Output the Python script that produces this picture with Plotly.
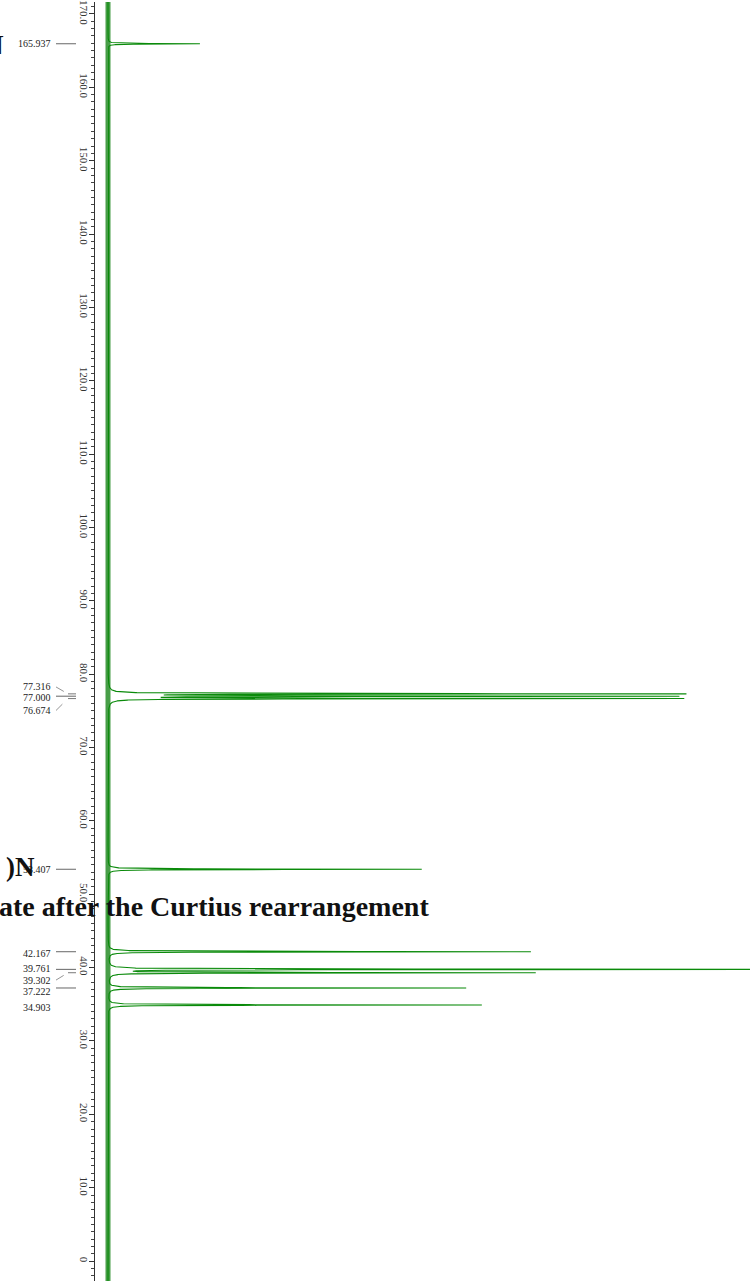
import numpy as np
import plotly.graph_objects as go

# ---- data (13C NMR, ppm) ----
peak_ppm = [165.937, 77.316, 77.000, 76.674, 53.407, 42.167, 39.761, 39.302, 37.222, 34.903]
peak_int = [92, 570, 558, 570, 314, 423, 680, 425, 359, 374]
peak_labels = ["165.937", "77.316", "77.000", "76.674", "53.407",
               "42.167", "39.761", "39.302", "37.222", "34.903"]
label_ppm = [165.937, 78.26, 76.77, 75.05, 53.407, 41.9, 39.85, 38.3, 36.75, 34.55]
label_link = [True, True, True, True, True, True, True, True, True, False]
tick_vals = list(range(0, 171, 10))
tick_text = ["0"] + [f"{v:.1f}" for v in tick_vals[1:]]

# ---- layout geometry (page pixels) ----
W, H = 750, 1281
PLOT_L = 95                # axis line position
X_MIN, X_MAX = -13, 642
Y_MIN, Y_MAX = -2.72, 171.63
hw = 0.035                 # Lorentzian half width (ppm)

def px_to_paper(px):
    return (px - PLOT_L) / (W - PLOT_L)

def py_to_paper(py):
    return 1 - py / H

# spectrum built from the peak list
ppm = np.arange(Y_MIN, Y_MAX, 0.004)
inten = np.zeros_like(ppm)
for p, a in zip(peak_ppm, peak_int):
    inten += a * hw**2 / ((ppm - p) ** 2 + hw**2)

fig = go.Figure()
fig.add_trace(go.Scatter(x=inten, y=ppm, mode="lines",
                         line=dict(color="#0a8a0a", width=1.1),
                         hoverinfo="skip", showlegend=False))

shapes = []
# baseline noise band
shapes.append(dict(type="rect", xref="x", yref="paper", x0=-2.5, x1=2.5, y0=0, y1=1,
                   fillcolor="#1a861a", line=dict(width=0), opacity=0.8, layer="below"))

annotations = []
for p, lab, ly, link in zip(peak_ppm, peak_labels, label_ppm, label_link):
    annotations.append(dict(xref="paper", yref="y", x=px_to_paper(53), y=ly,
                            text=lab, showarrow=False, xanchor="right", yanchor="middle",
                            font=dict(family="Liberation Serif", size=10, color="#222")))
    if not link:
        continue
    if abs(ly - p) < 0.5:
        shapes.append(dict(type="line", xref="paper", yref="y",
                           x0=px_to_paper(56), x1=px_to_paper(76), y0=p, y1=p,
                           line=dict(color="#555", width=0.9)))
    else:
        shapes.append(dict(type="line", xref="paper", yref="y",
                           x0=px_to_paper(56), x1=px_to_paper(68), y0=ly, y1=p,
                           line=dict(color="#666", width=0.7, dash="dash")))
        shapes.append(dict(type="line", xref="paper", yref="y",
                           x0=px_to_paper(68), x1=px_to_paper(76), y0=p, y1=p,
                           line=dict(color="#555", width=0.8)))

# overlapping caption text fragments from the source page
serif_bold = dict(family="Liberation Serif", size=27, color="#111")
annotations.append(dict(xref="paper", yref="paper", x=px_to_paper(6), y=py_to_paper(43),
                        text="<b>N</b>", showarrow=False, xanchor="right", yanchor="middle",
                        font=serif_bold))
annotations.append(dict(xref="paper", yref="paper", x=px_to_paper(4), y=py_to_paper(866),
                        text="<b>)N</b>", showarrow=False, xanchor="left", yanchor="middle",
                        font=serif_bold))
annotations.append(dict(xref="paper", yref="paper", x=px_to_paper(-3), y=py_to_paper(906),
                        text="<b>ate after the Curtius rearrangement</b>", showarrow=False,
                        xanchor="left", yanchor="middle",
                        font=dict(family="Liberation Serif", size=28, color="#111")))

fig.update_layout(
    width=W, height=H,
    margin=dict(l=PLOT_L, r=0, t=0, b=0),
    paper_bgcolor="white", plot_bgcolor="white",
    shapes=shapes, annotations=annotations,
    xaxis=dict(range=[X_MIN, X_MAX], visible=False, fixedrange=True),
    yaxis=dict(range=[Y_MIN, Y_MAX], tickvals=tick_vals, ticktext=tick_text,
               tickangle=90, ticks="outside", ticklen=5, tickcolor="#333", tickwidth=1,
               ticklabelstandoff=-4, ticklabeloverflow="allow",
               showline=True, linecolor="#333", linewidth=1, showgrid=False, zeroline=False,
               tickfont=dict(family="Liberation Serif", size=11, color="#333"),
               minor=dict(dtick=1, ticks="outside", ticklen=3, tickcolor="#444", tickwidth=0.8)),
)

fig.write_html("out.html", config={"displayModeBar": False},
               post_script="document.body.style.margin='0';")
